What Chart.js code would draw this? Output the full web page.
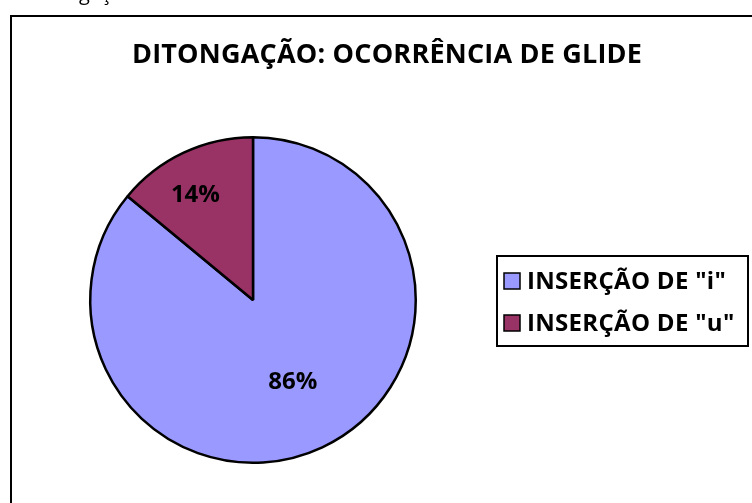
<!DOCTYPE html>
<html><head><meta charset="utf-8">
<script src="https://cdn.jsdelivr.net/npm/chart.js@4/dist/chart.umd.min.js"></script>
<style>html,body{margin:0;padding:0;background:#fff;overflow:hidden}#wrap{width:752px;height:503px}</style>
</head><body><div id="wrap"><canvas id="c" width="752" height="503"></canvas></div>
<script>
const chartTitle = 'DITONGAÇÃO: OCORRÊNCIA DE GLIDE';
const captionText = 'Ditongação';
const categories = ['INSERÇÃO DE "i"', 'INSERÇÃO DE "u"'];
const percentValues = [86, 14];
const sliceColors = ['#9999FF', '#993366'];

const FONT = '"Open Sans", "Noto Sans", sans-serif';

const decor = {
  id: 'decor',
  beforeDraw(chart) {
    const ctx = chart.ctx;
    ctx.save();
    ctx.fillStyle = '#fff';
    ctx.fillRect(0, 0, chart.width, chart.height);
    // outer chart frame (extends beyond the visible window)
    ctx.strokeStyle = '#000';
    ctx.lineWidth = 2;
    ctx.strokeRect(11, 16, 760, 520);
    // cropped caption above the frame
    ctx.fillStyle = '#000';
    ctx.font = '20px ' + FONT;
    ctx.textBaseline = 'alphabetic';
    ctx.textAlign = 'left';
    ctx.fillText(captionText, 28, 0);
    ctx.restore();
  },
  afterDraw(chart) {
    const ctx = chart.ctx;
    ctx.save();
    // title
    ctx.fillStyle = '#000';
    ctx.font = 'bold 27px ' + FONT;
    ctx.letterSpacing = '0.2px';
    ctx.textAlign = 'center';
    ctx.textBaseline = 'middle';
    ctx.fillText(chartTitle, 387, 55);
    ctx.letterSpacing = '0px';

    // percentage labels
    const meta = chart.getDatasetMeta(0);
    const ds = chart.data.datasets[0];
    const total = ds.data.reduce((a, b) => a + b, 0);
    ctx.font = 'bold 24px ' + FONT;
    meta.data.forEach((arc, i) => {
      const p = arc.getProps(['x', 'y', 'startAngle', 'endAngle', 'outerRadius'], true);
      const mid = (p.startAngle + p.endAngle) / 2;
      const frac = (ds.data[i] / total) > 0.5 ? 0.56 : 0.73;
      const r = p.outerRadius * frac;
      const tx = p.x + Math.cos(mid) * r - (frac > 0.6 ? 7 : -1);
      const ty = p.y + Math.sin(mid) * r + (frac > 0.6 ? 3 : 0);
      ctx.fillText(Math.round(ds.data[i] / total * 100) + '%', tx, ty);
    });

    // legend box
    const lx = 497, ly = 256, lw = 251, lh = 90;
    ctx.lineWidth = 2;
    ctx.strokeStyle = '#000';
    ctx.strokeRect(lx, ly, lw, lh);
    ctx.font = 'bold 24px ' + FONT;
    ctx.letterSpacing = '0.3px';
    ctx.textAlign = 'left';
    ctx.textBaseline = 'middle';
    chart.data.labels.forEach((lab, i) => {
      const cy = ly + 25 + i * 42;
      ctx.fillStyle = ds.backgroundColor[i];
      ctx.fillRect(504, cy - 8, 16, 16);
      ctx.lineWidth = 1.5;
      ctx.strokeRect(504, cy - 8, 16, 16);
      ctx.fillStyle = '#000';
      ctx.fillText(lab, 527, cy + 1);
    });
    ctx.restore();
  }
};

new Chart(document.getElementById('c'), {
  type: 'pie',
  data: {
    labels: categories,
    datasets: [{
      data: percentValues,
      backgroundColor: sliceColors,
      borderColor: '#000',
      borderWidth: 2.5,
      borderAlign: 'center'
    }]
  },
  options: {
    responsive: false,
    devicePixelRatio: 1,
    animation: false,
    layout: { padding: { left: 89, right: 335, top: 136, bottom: 39 } },
    plugins: {
      legend: { display: false },
      title: { display: false },
      tooltip: { enabled: false }
    }
  },
  plugins: [decor]
});
</script>
</body></html>
